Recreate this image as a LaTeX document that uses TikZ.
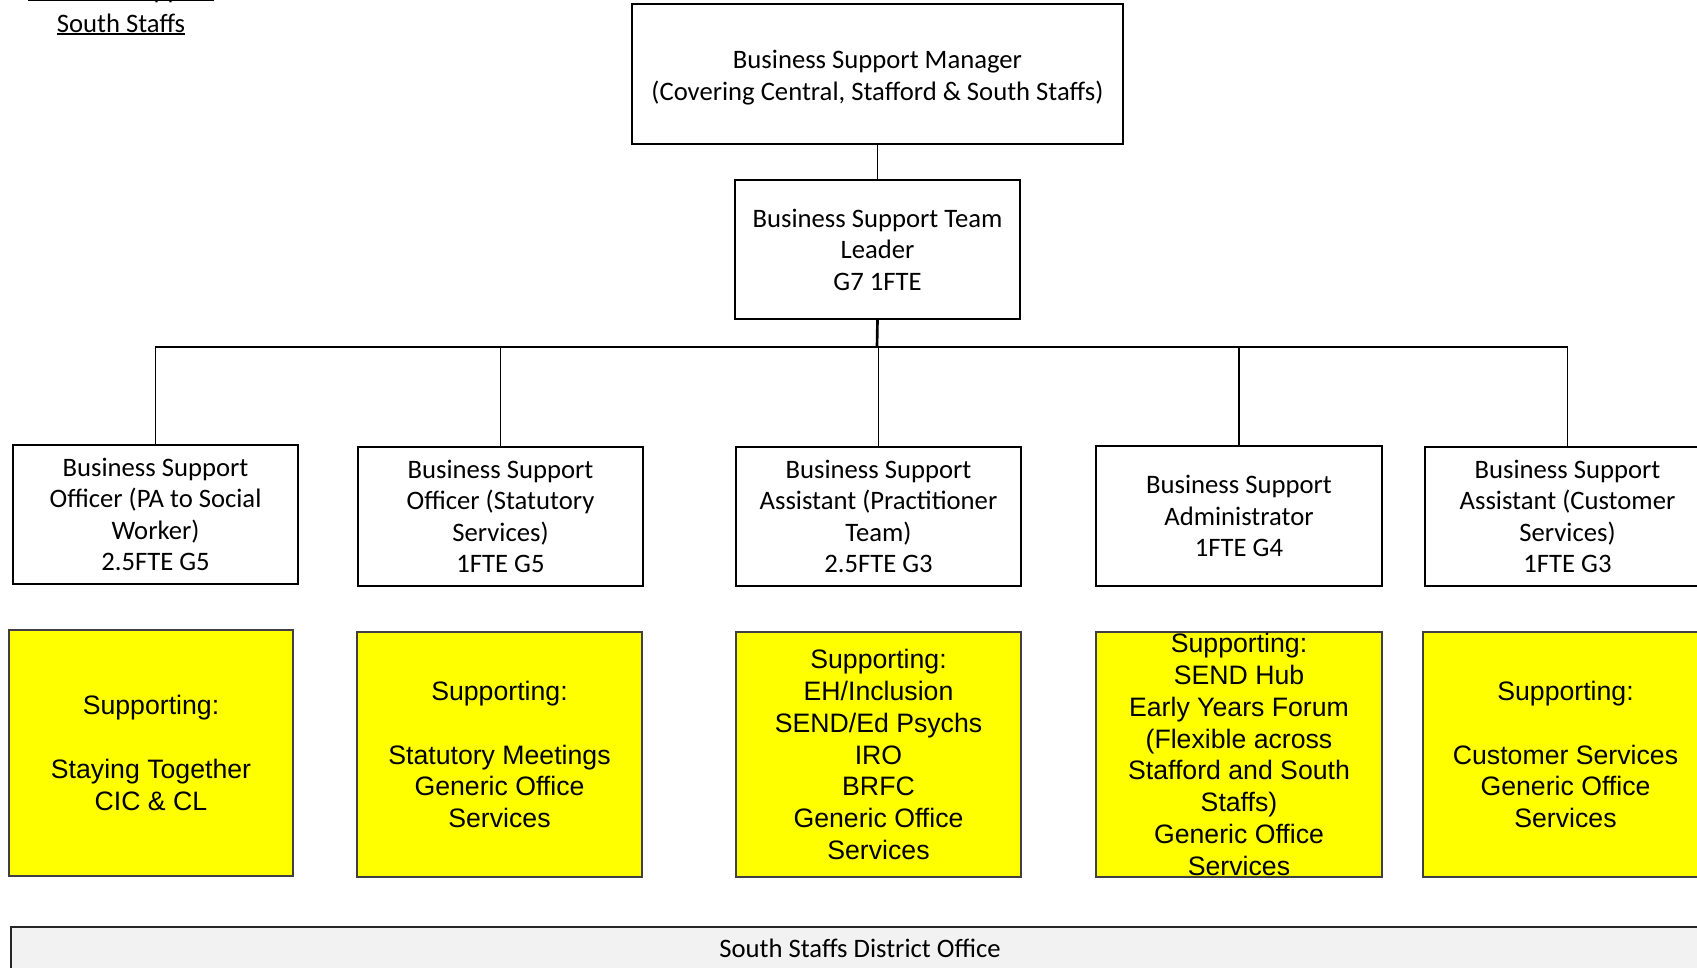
\documentclass[tikz,border=0pt]{standalone}
\usepackage{fontspec}
\setmainfont{Carlito}
\newfontfamily\arfont{Liberation Sans}
\usetikzlibrary{fit}
\definecolor{ylw}{HTML}{FFFF00}
\definecolor{bandgray}{HTML}{F2F2F2}
\newcommand\myul[1]{\setbox0\hbox{#1}\rlap{\rule[-2pt]{\wd0}{0.9pt}}\box0}
\begin{document}
\begin{tikzpicture}[x=0.75pt,y=-0.75pt,
 wbox/.style={draw=black, line width=0.8pt, fill=white, inner sep=0pt},
 wtext/.style={inner sep=0pt, align=center, font=\fontsize{20}{23.6}\selectfont},
 ybox/.style={draw=black!75, line width=0.8pt, fill=ylw, inner sep=0pt},
 ytext/.style={inner sep=0pt, align=center, font=\arfont\fontsize{20}{23.9}\selectfont},
 band/.style={draw=black!85, line width=0.8pt, fill=bandgray, inner sep=0pt},
 link/.style={line width=1.3pt},
 title/.style={inner sep=0pt, anchor=base, font=\fontsize{20}{23.6}\selectfont}]
\useasboundingbox (0,0) rectangle (1697,968);
\clip (0,0) rectangle (1697,968);

% title (top left, partly cut)
\node[title] (t1) at (121,-1.5) {\myul{Business Support}};
\node[title] (t2) at (121,32) {\myul{South Staffs}};

% top boxes
\node[wbox, fit={(632,4) (1123,144)}] (mgr) {};
\node[wtext, yshift=-2.5pt, font=\fontsize{20}{24.2}\selectfont] (mgrt) at (mgr.center) {Business Support Manager\\(Covering Central, Stafford \& South Staffs)};
\node[wbox, fit={(735,180) (1020,319)}] (tl) {};
\node[wtext] (tlt) at (tl.center) {Business Support Team\\Leader\\G7 1FTE};

% second row
\node[wbox, fit={(13,445) (298,584)}] (b1) {};
\node[wtext] (b1t) at (b1.center) {Business Support\\Officer (PA to Social\\Worker)\\2.5FTE G5};
\node[wbox, fit={(358,447) (643,586)}] (b2) {};
\node[wtext] (b2t) at (b2.center) {Business Support\\Officer (Statutory\\Services)\\1FTE G5};
\node[wbox, fit={(736,447) (1021,586)}] (b3) {};
\node[wtext] (b3t) at (b3.center) {Business Support\\Assistant (Practitioner\\Team)\\2.5FTE G3};
\node[wbox, fit={(1096,446) (1382,586)}] (b4) {};
\node[wtext] (b4t) at (b4.center) {Business Support\\Administrator\\1FTE G4};
\node[wbox, fit={(1425,447) (1710,586)}] (b5) {};
\node[wtext] (b5t) at (b5.center) {Business Support\\Assistant (Customer\\Services)\\1FTE G3};

% connectors
\coordinate (bus) at (877,347);
\draw[link] (mgr.south) -- (tl.north);
\draw[line width=2pt] (tl.south) -- (bus);
\foreach \b in {b1,b2,b3,b4,b5} \draw[link] (\b.north) |- (bus);

% yellow boxes
\node[ybox, fit={(9,630) (293,876)}] (y1) {};
\node[ytext] (y1t) at (y1.center) {Supporting:\\[23.9pt]Staying Together\\CIC \& CL};
\node[ybox, fit={(357,632) (642,877)}] (y2) {};
\node[ytext] (y2t) at (y2.center) {Supporting:\\[23.9pt]Statutory Meetings\\Generic Office\\Services};
\node[ybox, fit={(736,632) (1021,877)}] (y3) {};
\node[ytext] (y3t) at (y3.center) {Supporting:\\EH/Inclusion\\SEND/Ed Psychs\\IRO\\BRFC\\Generic Office\\Services};
\node[ybox, fit={(1096,632) (1382,877)}] (y4) {};
\node[ytext] (y4t) at (y4.center) {Supporting:\\SEND Hub\\Early Years Forum\\(Flexible across\\Stafford and South\\Staffs)\\Generic Office\\Services};
\node[ybox, fit={(1423,632) (1708,877)}] (y5) {};
\node[ytext] (y5t) at (y5.center) {Supporting:\\[23.9pt]Customer Services\\Generic Office\\Services};

% bottom band
\node[band, fit={(11,927) (1709,969)}] (office) {};
\node[wtext] (officet) at (office.center) {South Staffs District Office};
\end{tikzpicture}
\end{document}
